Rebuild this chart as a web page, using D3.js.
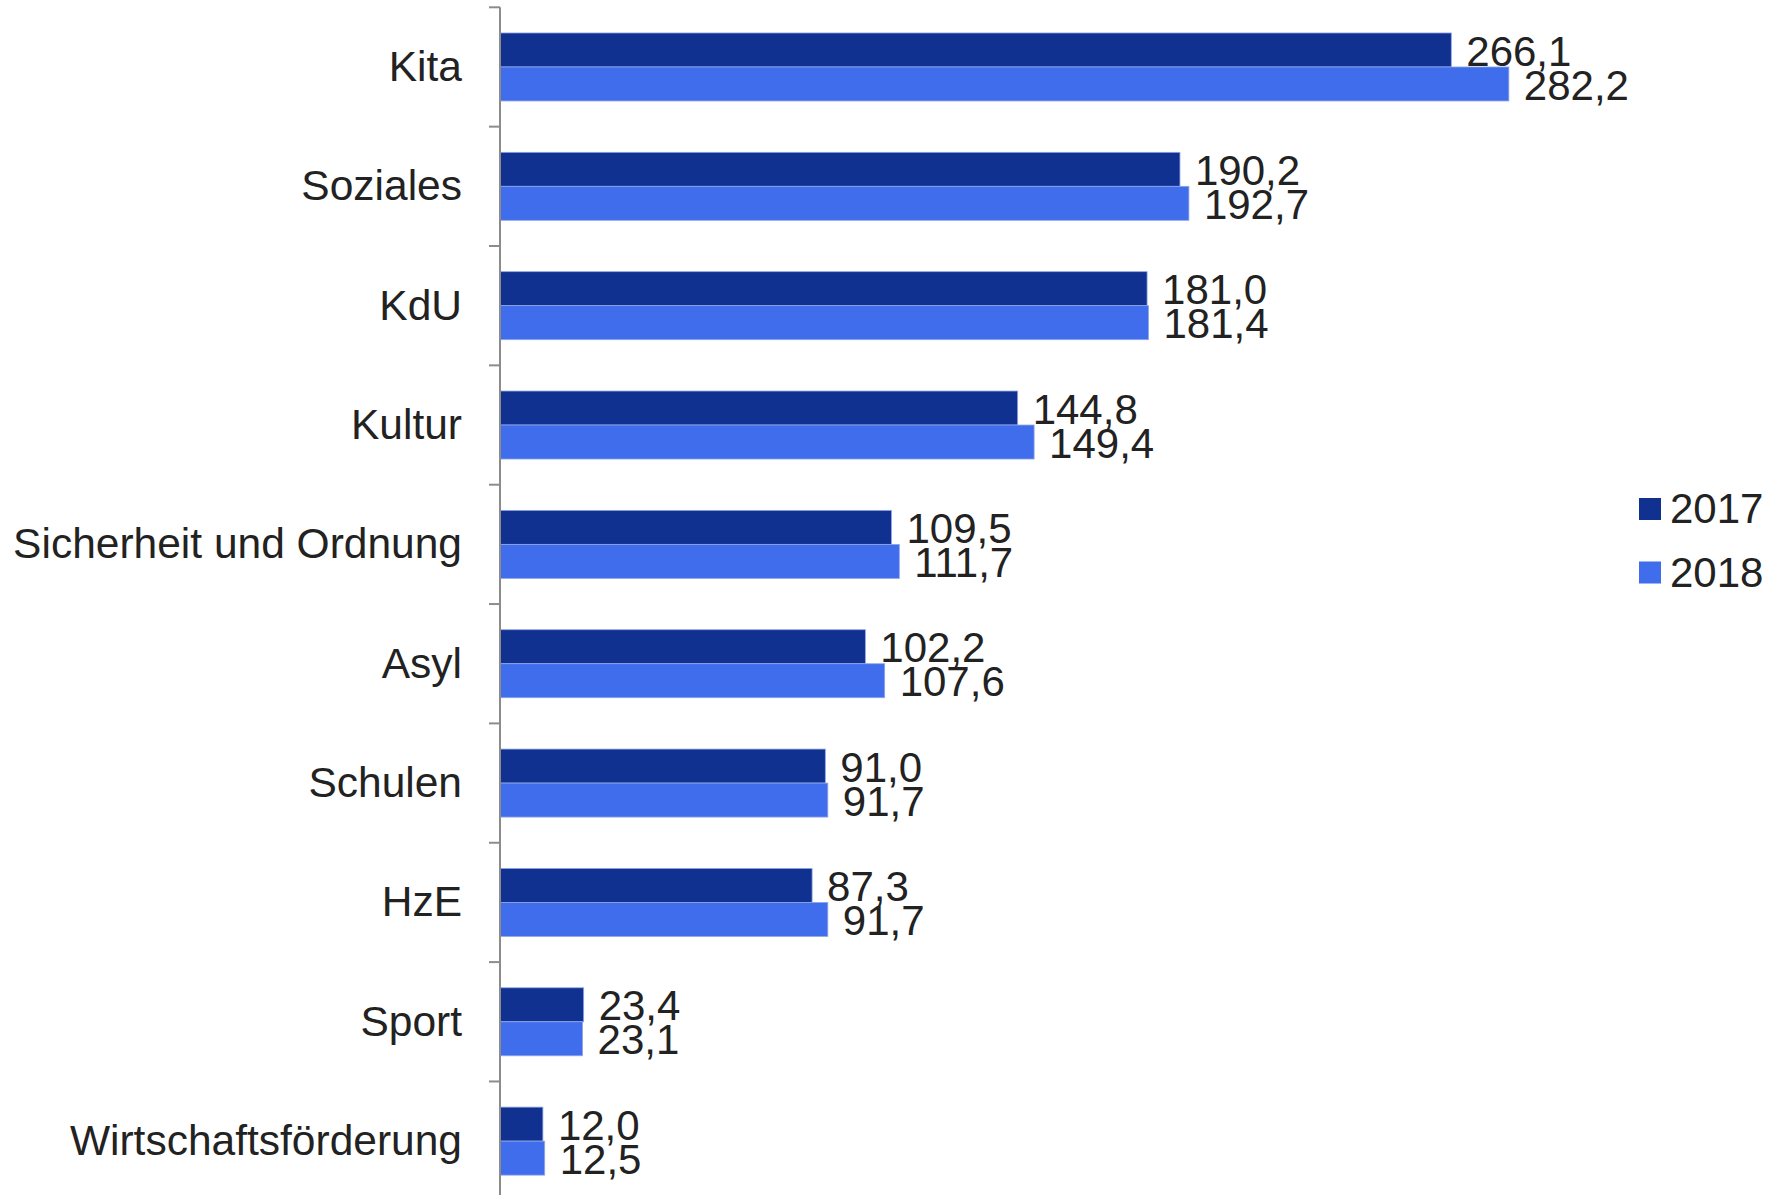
<!DOCTYPE html>
<html>
  <head>
    <meta charset="utf-8">
    <title>Ausgaben 2017 / 2018</title>
    <script src="https://d3js.org/d3.v7.min.js"></script>
    <style>
      body { margin: 0; background: #fff; }
      svg text { font-family: "Liberation Sans", Arial, sans-serif; font-size: 42px; fill: #222; }
      .axisLine, .tickLine { stroke: #8c8c8c; stroke-width: 2; }
    </style>
  </head>
  <body>
    <svg id="chart" width="1781" height="1195"></svg>
    <script>
      // data
      var categories = ["Kita", "Soziales", "KdU", "Kultur", "Sicherheit und Ordnung", "Asyl", "Schulen", "HzE", "Sport", "Wirtschaftsförderung"];
      var series = ["2017", "2018"];
      var values2017 = [266.1, 190.2, 181.0, 144.8, 109.5, 102.2, 91.0, 87.3, 23.4, 12.0];
      var values2018 = [282.2, 192.7, 181.4, 149.4, 111.7, 107.6, 91.7, 91.7, 23.1, 12.5];
      var colours = ["#10318f", "#3f6deb"];

      var rows = categories.map(function(c, i) {
        return { name: c, values: [values2017[i], values2018[i]] };
      });

      var svg = d3.select("#chart");
      var marginLeft = 500, marginTop = 7.3, step = 119.35;

      var x = d3.scaleLinear()
        .domain([0, 300])
        .range([marginLeft, marginLeft + 300 * 3.575]);
      var y = d3.scaleBand()
        .domain(categories)
        .range([marginTop, marginTop + step * categories.length]);
      var y1 = d3.scaleBand()
        .domain(series)
        .range([0, y.bandwidth()])
        .paddingOuter(0.755);

      var fmt = function(v) { return d3.format(".1f")(v).replace(".", ","); };

      // bars
      var groups = svg.selectAll(".cat")
          .data(rows)
        .enter().append("g")
          .attr("class", "cat")
          .attr("transform", function(d) { return "translate(0," + y(d.name) + ")"; });
      groups.selectAll("rect")
          .data(function(d) { return d.values; })
        .enter().append("rect")
          .attr("x", x(0))
          .attr("y", function(d, i) { return y1(series[i]); })
          .attr("width", function(d) { return x(d) - x(0); })
          .attr("height", y1.bandwidth())
          .attr("fill", function(d, i) { return colours[i]; })
          .attr("stroke", "#8fa6e8")
          .attr("stroke-width", 0.8);
      groups.selectAll(".val")
          .data(function(d) { return d.values; })
        .enter().append("text")
          .attr("class", "val")
          .attr("x", function(d) { return x(d) + 15; })
          .attr("y", function(d, i) { return y1(series[i]) + y1.bandwidth() / 2; })
          .attr("dy", "0.37em")
          .text(fmt);

      // axis
      var axis = d3.axisLeft(y).tickSize(0).tickPadding(38);
      var axisGroup = svg.append("g")
        .attr("transform", "translate(" + marginLeft + ",0)")
        .call(axis);
      axisGroup.select(".domain").remove();
      axisGroup.selectAll("text")
        .attr("dy", "0.33em")
        .style("font-size", "42.5px")
        .style("font-family", "'Liberation Sans', Arial, sans-serif")
        .attr("fill", "#222");
      svg.append("line")
        .attr("class", "axisLine")
        .attr("x1", marginLeft).attr("x2", marginLeft)
        .attr("y1", marginTop).attr("y2", 1195);
      svg.selectAll(".tickLine")
          .data(categories)
        .enter().append("line")
          .attr("class", "tickLine")
          .attr("x1", marginLeft - 11).attr("x2", marginLeft)
          .attr("y1", function(d) { return y(d); })
          .attr("y2", function(d) { return y(d); });

      // legend
      var legend = svg.selectAll(".legend")
          .data(series)
        .enter().append("g")
          .attr("class", "legend")
          .attr("transform", function(d, i) { return "translate(1639," + (498 + i * 63.5) + ")"; });
      legend.append("rect")
        .attr("width", 22).attr("height", 22)
        .attr("fill", function(d, i) { return colours[i]; });
      legend.append("text")
        .attr("x", 31).attr("y", 25)
        .style("font-size", "42px")
        .text(function(d) { return d; });
    </script>
  </body>
</html>
